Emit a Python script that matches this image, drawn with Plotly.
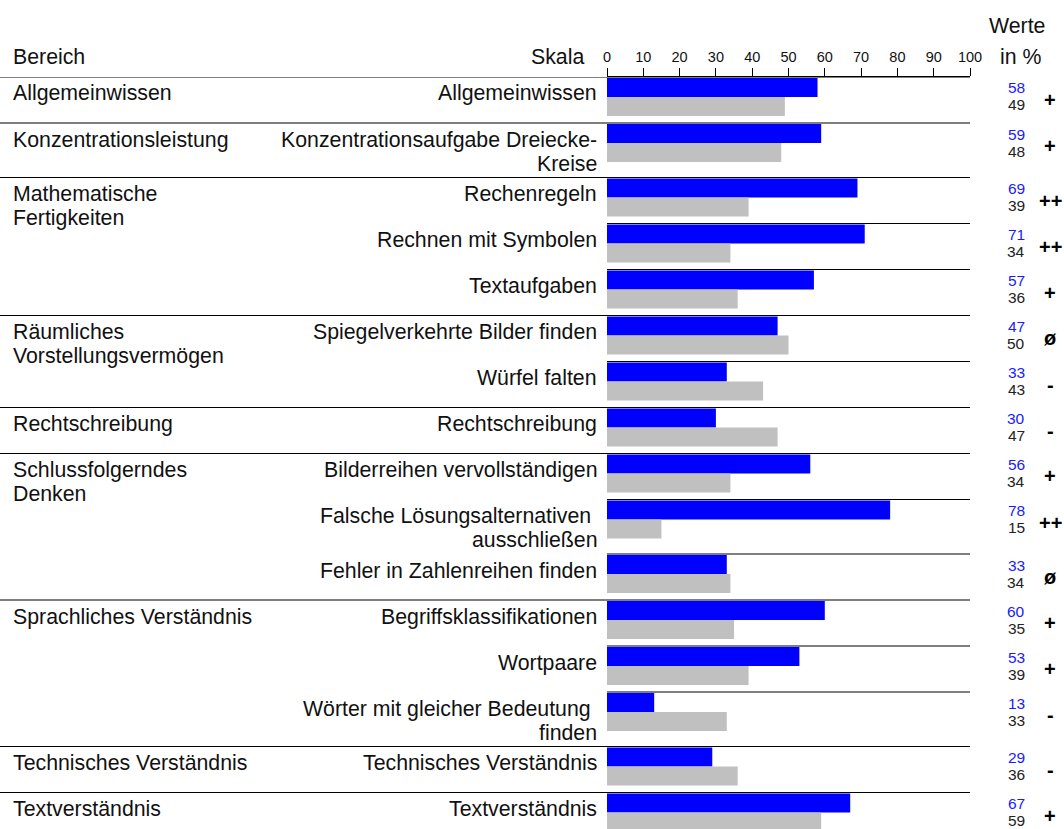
import plotly.graph_objects as go

# ---------------- data ----------------
bereiche = [
    "Allgemeinwissen",
    "Konzentrationsleistung",
    "Mathematische<br>Fertigkeiten",
    "Räumliches<br>Vorstellungsvermögen",
    "Rechtschreibung",
    "Schlussfolgerndes<br>Denken",
    "Sprachliches Verständnis",
    "Technisches Verständnis",
    "Textverständnis",
]
bereich_index = [0, 1, 2, 2, 2, 3, 3, 4, 5, 5, 5, 6, 6, 6, 7, 8]
skalen = [
    "Allgemeinwissen",
    "Konzentrationsaufgabe Dreiecke-<br>Kreise",
    "Rechenregeln",
    "Rechnen mit Symbolen",
    "Textaufgaben",
    "Spiegelverkehrte Bilder finden",
    "Würfel falten",
    "Rechtschreibung",
    "Bilderreihen vervollständigen",
    "Falsche Lösungsalternativen\u00a0<br>ausschließen",
    "Fehler in Zahlenreihen finden",
    "Begriffsklassifikationen",
    "Wortpaare",
    "Wörter mit gleicher Bedeutung\u00a0<br>finden",
    "Technisches Verständnis",
    "Textverständnis",
]
werte_person = [58, 59, 69, 71, 57, 47, 33, 30, 56, 78, 33, 60, 53, 13, 29, 67]
werte_vergleich = [49, 48, 39, 34, 36, 50, 43, 47, 34, 15, 34, 35, 39, 33, 36, 59]
bewertung = ["+", "+", "++", "++", "+", "ø", "-", "-", "+", "++", "ø", "+", "+", "-", "-", "+"]
ticks = [0, 10, 20, 30, 40, 50, 60, 70, 80, 90, 100]

# ---------------- layout constants ----------------
W, H = 1064, 829
FONT = "Liberation Sans, Arial, Helvetica, sans-serif"
BLUE = "#0000FF"
GRAY = "#C0C0C0"
X0_PX, X100_PX = 607, 970
TOP_PX = 77
ROW_SINGLE, ROW_DOUBLE = 46, 54.5
BAR_H = 19
LABEL_SIZE = 21.3


def py(p):
    return 1 - p / H


def px(p):
    return p / W


# row tops from label line counts
row_tops = []
y = TOP_PX
for lab in skalen:
    row_tops.append(y)
    y += ROW_DOUBLE if "<br>" in lab else ROW_SINGLE

fig = go.Figure()
fig.add_trace(go.Bar(
    x=werte_person, y=[t + 1 + BAR_H / 2 for t in row_tops], width=BAR_H,
    orientation="h", marker=dict(color=BLUE, line=dict(width=0)),
    hoverinfo="x",
))
fig.add_trace(go.Bar(
    x=werte_vergleich, y=[t + 1 + BAR_H * 1.5 for t in row_tops], width=BAR_H,
    orientation="h", marker=dict(color=GRAY, line=dict(width=0)),
    hoverinfo="x",
))

annotations = []
shapes = []


def text(x, y, s, anchor="left", size=LABEL_SIZE, color="#111111", bold=False):
    if bold:
        s = "<b>" + s + "</b>"
    annotations.append(dict(
        x=px(x), y=py(y), xref="paper", yref="paper", text=s, showarrow=False,
        xanchor=anchor, yanchor="middle", borderpad=0,
        font=dict(family=FONT, size=size, color=color),
    ))


# headers
text(12, 57, "Bereich")
text(585, 57, "Skala", anchor="right")
text(1017, 26, "Werte", anchor="center")
text(1020, 57, "in %", anchor="center")

prev_group = None
for i, lab in enumerate(skalen):
    top = row_tops[i]
    g = bereich_index[i]
    if g != prev_group:
        shapes.append(dict(type="line", xref="paper", yref="y",
                           x0=0, x1=px(X100_PX), y0=top, y1=top,
                           line=dict(color="black", width=1.1)))
        for j, line in enumerate(bereiche[g].split("<br>")):
            text(12, top + 16.5 + 24 * j, line)
        prev_group = g
    else:
        shapes.append(dict(type="line", xref="x", yref="y",
                           x0=0, x1=100, y0=top, y1=top,
                           line=dict(color="black", width=1.1)))
    for j, line in enumerate(lab.split("<br>")):
        text(598, top + 16.5 + 24 * j, line, anchor="right")
    text(1016, top + 11, str(werte_person[i]), anchor="center", size=15.5, color="#1a1aff")
    text(1016, top + 28, str(werte_vergleich[i]), anchor="center", size=15.5, color="#222222")
    text(1050, top + 23, bewertung[i], anchor="center", size=20, color="#000000", bold=True)

fig.update_layout(
    width=W, height=H, autosize=False,
    margin=dict(l=0, r=0, t=0, b=0, pad=0),
    paper_bgcolor="white", plot_bgcolor="white",
    showlegend=False, barmode="overlay",
    annotations=annotations, shapes=shapes,
    font=dict(family=FONT, color="#111111"),
    xaxis=dict(
        domain=[px(X0_PX), px(X100_PX)], range=[0, 100], side="top",
        tickvals=ticks, ticktext=[str(t) for t in ticks],
        ticks="outside", ticklen=8, tickcolor="black", tickwidth=1,
        showline=True, linecolor="black", linewidth=1,
        showgrid=False, zeroline=False, automargin=False,
        tickfont=dict(family=FONT, size=14.5, color="#111111"),
    ),
    yaxis=dict(
        domain=[0, py(TOP_PX)], range=[H, TOP_PX],
        showticklabels=False, showgrid=False, zeroline=False, showline=False,
        ticks="", automargin=False,
    ),
)

fig.write_html(
    "out.html",
    config={"responsive": False, "displayModeBar": False},
    post_script="document.body.style.margin='0';document.body.style.overflow='hidden';",
)
